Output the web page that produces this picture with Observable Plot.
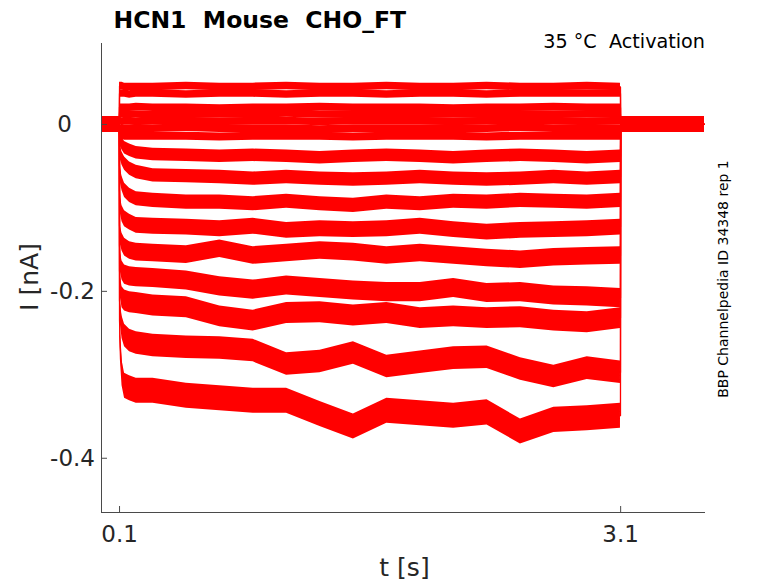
<!DOCTYPE html>
<html>
<head>
<meta charset="utf-8">
<script src="https://cdn.jsdelivr.net/npm/d3@7"></script>
<script src="https://cdn.jsdelivr.net/npm/@observablehq/plot@0.6"></script>
<style>
  body { margin: 0; background: white; }
</style>
</head>
<body>
<div id="chart"></div>
<script>
// ---- text ----
const titleText = "HCN1\u00a0 Mouse\u00a0 CHO_FT";
const conditionText = "35 °C\u00a0 Activation";
const sideText = "BBP Channelpedia ID 34348 rep 1";
const xLabel = "t [s]";
const yLabel = "I [nA]";

// ---- axes ----
const xDomain = [-0.008, 3.608];
const yDomain = [-0.465, 0.097];
const xTicks = [0.1, 3.1];
const yTicks = [-0.4, -0.2, 0];

// ---- sample times (s) ----
const times = [0, 0.099,
  0.1, 0.105, 0.115, 0.13, 0.16, 0.2, 0.3, 0.5, 0.7, 0.9, 1.1, 1.3, 1.5, 1.7, 1.9, 2.1, 2.3, 2.5, 2.7, 2.9, 3.099,
  3.1, 3.3, 3.6];

// ---- current sweeps (nA) ----
const sweep1  = [0, 0, 0.046, 0.046, 0.046, 0.045, 0.045, 0.045, 0.045, 0.046, 0.045, 0.045, 0.046, 0.045, 0.045, 0.046, 0.045, 0.045, 0.046, 0.045, 0.045, 0.046, 0.045, 0, 0, 0];
const sweep2  = [0, 0, 0.037, 0.037, 0.037, 0.037, 0.036, 0.037, 0.037, 0.036, 0.037, 0.037, 0.036, 0.037, 0.037, 0.036, 0.037, 0.037, 0.036, 0.037, 0.037, 0.037, 0.037, 0, 0, 0];
const sweep3  = [0, 0, 0.021, 0.020, 0.020, 0.020, 0.020, 0.021, 0.020, 0.020, 0.019, 0.020, 0.020, 0.021, 0.020, 0.020, 0.020, 0.019, 0.020, 0.020, 0.021, 0.020, 0.020, 0, 0, 0];
const sweep4  = [0, 0, 0.013, 0.012, 0.012, 0.012, 0.012, 0.012, 0.011, 0.012, 0.012, 0.012, 0.013, 0.012, 0.012, 0.011, 0.012, 0.012, 0.012, 0.012, 0.012, 0.012, 0.012, 0, 0, 0];
const sweep5  = [0, 0, 0.004, 0.004, 0.003, 0.004, 0.004, 0.003, 0.004, 0.004, 0.003, 0.004, 0.004, 0.003, 0.004, 0.004, 0.004, 0.003, 0.004, 0.004, 0.004, 0.003, 0.004, 0, 0, 0];
const sweep6  = [0, 0, -0.004, -0.005, -0.005, -0.005, -0.005, -0.005, -0.005, -0.004, -0.005, -0.005, -0.005, -0.006, -0.005, -0.005, -0.005, -0.005, -0.005, -0.004, -0.005, -0.005, -0.005, 0, 0, 0];
const sweep7  = [0, 0, -0.011, -0.012, -0.013, -0.014, -0.014, -0.014, -0.014, -0.014, -0.015, -0.014, -0.014, -0.014, -0.015, -0.014, -0.014, -0.014, -0.015, -0.014, -0.014, -0.014, -0.014, 0, 0, 0];
const sweep8  = [0, 0, -0.013, -0.019, -0.023, -0.028, -0.031, -0.034, -0.036, -0.037, -0.038, -0.037, -0.038, -0.040, -0.038, -0.037, -0.038, -0.040, -0.038, -0.037, -0.038, -0.040, -0.038, 0, 0, 0];
const sweep9  = [0, 0, -0.025, -0.034, -0.041, -0.047, -0.053, -0.057, -0.061, -0.062, -0.063, -0.065, -0.063, -0.065, -0.066, -0.065, -0.063, -0.065, -0.066, -0.065, -0.063, -0.065, -0.063, 0, 0, 0];
const sweep10 = [0, 0, -0.049, -0.061, -0.071, -0.079, -0.085, -0.089, -0.091, -0.093, -0.093, -0.095, -0.092, -0.095, -0.097, -0.093, -0.095, -0.092, -0.093, -0.091, -0.092, -0.093, -0.091, 0, 0, 0];
const sweep11 = [0, 0, -0.079, -0.097, -0.107, -0.113, -0.117, -0.121, -0.122, -0.123, -0.125, -0.122, -0.127, -0.125, -0.126, -0.125, -0.122, -0.126, -0.129, -0.127, -0.126, -0.125, -0.123, 0, 0, 0];
const sweep12 = [0, 0, -0.121, -0.133, -0.141, -0.147, -0.151, -0.153, -0.154, -0.156, -0.149, -0.157, -0.154, -0.151, -0.153, -0.157, -0.154, -0.157, -0.160, -0.162, -0.159, -0.158, -0.157, 0, 0, 0];
const sweep13 = [0, 0, -0.145, -0.165, -0.175, -0.180, -0.182, -0.183, -0.184, -0.187, -0.194, -0.198, -0.193, -0.196, -0.199, -0.201, -0.201, -0.196, -0.202, -0.201, -0.205, -0.206, -0.208, 0, 0, 0];
const sweep14 = [0, 0, -0.175, -0.195, -0.207, -0.211, -0.213, -0.214, -0.217, -0.219, -0.230, -0.235, -0.226, -0.225, -0.229, -0.226, -0.232, -0.230, -0.232, -0.231, -0.235, -0.237, -0.232, 0, 0, 0];
const sweep15 = [0, 0, -0.211, -0.226, -0.243, -0.253, -0.259, -0.262, -0.265, -0.267, -0.268, -0.271, -0.287, -0.284, -0.274, -0.290, -0.285, -0.280, -0.279, -0.293, -0.302, -0.292, -0.297, 0, 0, 0];
const sweep16 = [0, 0, -0.235, -0.267, -0.298, -0.313, -0.316, -0.319, -0.319, -0.325, -0.328, -0.331, -0.331, -0.347, -0.362, -0.343, -0.346, -0.349, -0.345, -0.368, -0.354, -0.352, -0.349, 0, 0, 0];
const sweeps = [sweep1, sweep2, sweep3, sweep4, sweep5, sweep6, sweep7, sweep8,
                sweep9, sweep10, sweep11, sweep12, sweep13, sweep14, sweep15, sweep16];

// noise half-amplitude of each sweep during the step (nA), and at holding
const stepNoise = [0.0045, 0.0045, 0.0045, 0.0045, 0.0045, 0.0045, 0.0048, 0.0075,
                   0.008, 0.0085, 0.0095, 0.0105, 0.0115, 0.0125, 0.0135, 0.015];
const holdNoise = 0.009;
const stepStart = 0.1, stepEnd = 3.1;

const rows = [];
sweeps.forEach((s, k) => s.forEach((v, j) => {
  const t = times[j];
  rows.push({sweep: k, t, i: v, n: (t >= stepStart && t < stepEnd) ? stepNoise[k] : holdNoise});
}));

const axisColor = "#4a4a4a";
const textColor = "#262626";
const trace = "#ff0000";

const chart = Plot.plot({
  width: 778,
  height: 583,
  marginLeft: 101,
  marginRight: 73,
  marginTop: 43,
  marginBottom: 71,
  style: {fontFamily: "'DejaVu Sans', sans-serif", background: "white", color: textColor},
  x: {domain: xDomain, label: null},
  y: {domain: yDomain, label: null},
  marks: [
    Plot.areaY(rows, {x: "t", y1: d => d.i - d.n, y2: d => d.i + d.n, z: "sweep", fill: trace}),
    Plot.line(rows, {x: "t", y: "i", z: "sweep", stroke: trace, strokeWidth: 1.3}),
    Plot.ruleX([xDomain[0]], {stroke: axisColor, strokeWidth: 1}),
    Plot.ruleY([yDomain[0]], {stroke: axisColor, strokeWidth: 1}),
    Plot.tickX(xTicks, {x: d => d, insetTop: 463, stroke: axisColor}),
    Plot.tickY(yTicks, {y: d => d, insetRight: 598, stroke: axisColor}),
    Plot.axisX(xTicks, {tickSize: 0, tickPadding: 13, fontSize: 23, color: textColor, tickFormat: d => d.toFixed(1), label: null}),
    Plot.axisY(yTicks, {tickSize: 0, tickPadding: 6.5, fontSize: 23, color: textColor,
      tickFormat: d => d === 0 ? "0\u2002\u2002" : d.toFixed(1), label: null}),
    Plot.text([titleText], {text: d => d, frameAnchor: "top-left", dx: 12, dy: -16, lineAnchor: "bottom", textAnchor: "start", fontSize: 23.5, fontWeight: "bold", fill: "black"}),
    Plot.text([conditionText], {text: d => d, frameAnchor: "top-right", dx: -0.5, dy: 4, lineAnchor: "bottom", textAnchor: "end", fontSize: 19.2, fill: "black"}),
    Plot.text([sideText], {text: d => d, frameAnchor: "right", dx: 22.5, dy: 1, rotate: -90, lineAnchor: "bottom", textAnchor: "middle", fontSize: 14, fill: "black"}),
    Plot.text([yLabel], {text: d => d, frameAnchor: "left", dx: -63.5, dy: -1, rotate: -90, lineAnchor: "bottom", textAnchor: "middle", fontSize: 25, fill: textColor}),
    Plot.text([xLabel], {text: d => d, frameAnchor: "bottom", dx: 1, dy: 63, lineAnchor: "bottom", textAnchor: "middle", fontSize: 25, fill: textColor})
  ]
});
document.getElementById("chart").appendChild(chart);
</script>
</body>
</html>
